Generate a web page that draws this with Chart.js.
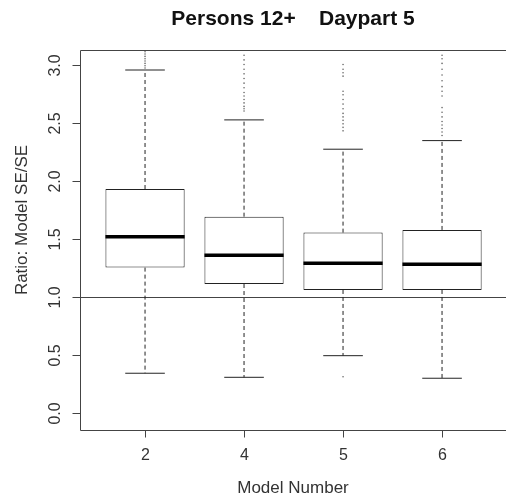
<!DOCTYPE html>
<html>
<head>
<meta charset="utf-8">
<script src="https://cdn.jsdelivr.net/npm/chart.js@4/dist/chart.umd.min.js"></script>
<style>
  html, body { margin: 0; padding: 0; background: #fff; overflow: hidden; }
</style>
</head>
<body>
<canvas id="boxChart" width="506" height="500"></canvas>
<script>
// Persons 12+ Daypart 5 - boxplot of model SE ratios

const categories = ['2', '4', '5', '6'];
const q1 = [1.254, 1.113, 1.062, 1.062];
const medians = [1.520, 1.360, 1.291, 1.283];
const q3 = [1.930, 1.692, 1.555, 1.578];
const whiskerLow = [0.346, 0.311, 0.497, 0.303];
const whiskerHigh = [2.953, 2.524, 2.272, 2.346];
const outliers = [
    [2.97, 2.99, 3.01, 3.03, 3.05, 3.07, 3.09, 3.11, 3.13],
    [2.60, 2.62, 2.64, 2.67, 2.70, 2.73, 2.76, 2.80, 2.84, 2.88, 2.92, 2.96, 3.00, 3.04, 3.08],
    [0.316, 2.43, 2.46, 2.49, 2.52, 2.55, 2.58, 2.62, 2.66, 2.70, 2.74, 2.77, 2.90, 2.93, 2.96, 3.00],
    [2.39, 2.42, 2.45, 2.48, 2.51, 2.55, 2.59, 2.63, 2.73, 2.77, 2.81, 2.86, 2.91, 2.96, 3.01, 3.05, 3.08]
];
const yTicks = [0, 0.5, 1, 1.5, 2, 2.5, 3];
const yTickLabels = ['0.0', '0.5', '1.0', '1.5', '2.0', '2.5', '3.0'];
const refValue = 1;

const titleText = 'Persons 12+    Daypart 5';
const xTitle = 'Model Number';
const yTitle = 'Ratio: Model SE/SE';

// axis limits (R style: 0.5..n+0.5 widened by 4%)
const xMin = 0.343, xMax = 4.646;
const yMin = -0.142, yMax = 3.125;
const boxHalf = 0.4;     // boxwex 0.8
const capHalf = 0.2;     // staple

const lineColor = '#222';
const axisColor = '#444';
const textColor = '#333';
const fontFamily = '"Liberation Sans", Arial, sans-serif';

// build segment lists (null y = gap)
function segments(getPairs) {
    const pts = [];
    categories.forEach((c, i) => {
        getPairs(i + 1, i).forEach(p => pts.push(p));
        pts.push({ x: i + 1, y: null });
    });
    return pts;
}

const boxData = categories.map((c, i) => ({ x: i + 1, y: [q1[i], q3[i]] }));
const whiskerData = segments((x, i) => [
    { x: x, y: q3[i] }, { x: x, y: whiskerHigh[i] }, { x: x, y: null },
    { x: x, y: q1[i] }, { x: x, y: whiskerLow[i] }
]);
const capData = segments((x, i) => [
    { x: x - capHalf, y: whiskerHigh[i] }, { x: x + capHalf, y: whiskerHigh[i] }, { x: x, y: null },
    { x: x - capHalf, y: whiskerLow[i] }, { x: x + capHalf, y: whiskerLow[i] }
]);
const medianData = segments((x, i) => [
    { x: x - boxHalf, y: medians[i] }, { x: x + boxHalf, y: medians[i] }
]);
const outlierData = [];
outliers.forEach((list, i) => list.forEach(v => outlierData.push({ x: i + 1, y: v })));

// frame, ticks, labels, reference line
const boxplotDecor = {
    id: 'boxplotDecor',
    beforeDatasetsDraw(chart) {
        const { ctx, chartArea, scales } = chart;
        const y = Math.round(scales.y.getPixelForValue(refValue)) + 0.5;
        ctx.save();
        ctx.strokeStyle = axisColor;
        ctx.lineWidth = 1;
        ctx.beginPath();
        ctx.moveTo(chartArea.left, y);
        ctx.lineTo(chartArea.right, y);
        ctx.stroke();
        ctx.restore();
    },
    afterDraw(chart) {
        const { ctx, chartArea, scales } = chart;
        const left = chartArea.left + 0.5, top = chartArea.top + 0.5, bottom = chartArea.bottom + 0.5;
        ctx.save();
        ctx.strokeStyle = axisColor;
        ctx.lineWidth = 1;
        ctx.beginPath();
        ctx.moveTo(chartArea.right + 2, top);
        ctx.lineTo(left, top);
        ctx.lineTo(left, bottom);
        ctx.lineTo(chartArea.right + 2, bottom);
        ctx.stroke();

        // y ticks
        ctx.fillStyle = textColor;
        ctx.font = '16px ' + fontFamily;
        ctx.textAlign = 'center';
        ctx.textBaseline = 'middle';
        yTicks.forEach((v, i) => {
            const py = Math.round(scales.y.getPixelForValue(v)) + 0.5;
            ctx.beginPath();
            ctx.moveTo(left - 8, py);
            ctx.lineTo(left, py);
            ctx.stroke();
            ctx.save();
            ctx.translate(56, py);
            ctx.rotate(-Math.PI / 2);
            ctx.fillText(yTickLabels[i], 0, 0);
            ctx.restore();
        });

        // x ticks
        categories.forEach((c, i) => {
            const px = Math.round(scales.x.getPixelForValue(i + 1)) + 0.5;
            ctx.beginPath();
            ctx.moveTo(px, bottom);
            ctx.lineTo(px, bottom + 7);
            ctx.stroke();
            ctx.fillText(c, px, 456);
        });

        // axis titles
        ctx.font = '17px ' + fontFamily;
        ctx.fillText(xTitle, 293, 488);
        ctx.save();
        ctx.translate(22, 220);
        ctx.rotate(-Math.PI / 2);
        ctx.fillText(yTitle, 0, 0);
        ctx.restore();

        // main title
        ctx.fillStyle = '#111';
        ctx.font = 'bold 21px ' + fontFamily;
        ctx.fillText(titleText, 293, 19);
        ctx.restore();
    }
};

new Chart(document.getElementById('boxChart'), {
    type: 'bar',
    data: {
        datasets: [{
            type: 'line',
            label: 'median',
            data: medianData,
            borderColor: '#000',
            borderWidth: 3.5,
            pointRadius: 0,
            spanGaps: false,
            order: 1
        }, {
            type: 'scatter',
            label: 'outliers',
            data: outlierData,
            backgroundColor: '#666',
            borderWidth: 0,
            pointRadius: 0.8,
            order: 2
        }, {
            type: 'line',
            label: 'caps',
            data: capData,
            borderColor: lineColor,
            borderWidth: 1,
            pointRadius: 0,
            spanGaps: false,
            order: 3
        }, {
            type: 'line',
            label: 'whiskers',
            data: whiskerData,
            borderColor: lineColor,
            borderWidth: 1,
            borderDash: [4, 3],
            pointRadius: 0,
            spanGaps: false,
            order: 4
        }, {
            type: 'bar',
            label: 'box',
            data: boxData,
            backgroundColor: '#fff',
            borderColor: lineColor,
            borderWidth: 1,
            borderSkipped: false,
            categoryPercentage: 0.8,
            barPercentage: 1,
            order: 5
        }]
    },
    options: {
        responsive: false,
        animation: false,
        layout: { autoPadding: false, padding: { left: 80, top: 50, right: 0, bottom: 70 } },
        plugins: {
            legend: { display: false },
            tooltip: { enabled: false },
            title: { display: false }
        },
        scales: {
            x: {
                type: 'linear',
                display: false,
                offset: false,
                min: xMin,
                max: xMax,
                afterBuildTicks: function(scale) {
                    scale.ticks = categories.map((c, i) => ({ value: i + 1 }));
                }
            },
            y: {
                type: 'linear',
                display: false,
                min: yMin,
                max: yMax
            }
        }
    },
    plugins: [boxplotDecor]
});
</script>
</body>
</html>
